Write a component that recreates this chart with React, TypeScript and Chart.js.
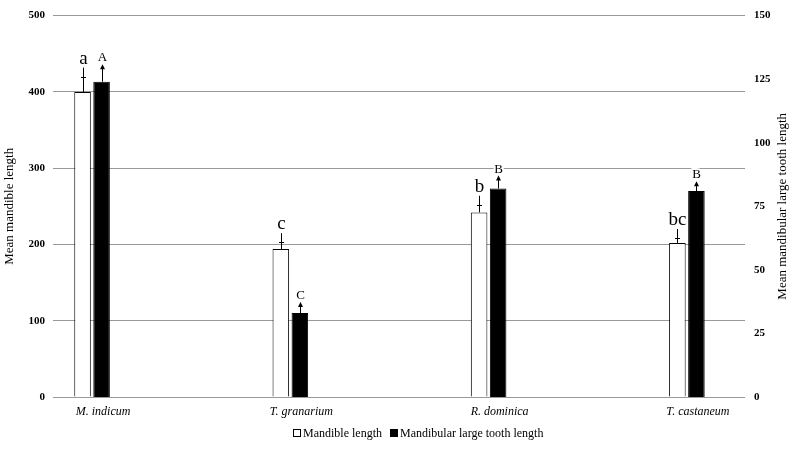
import React, { useEffect, useRef } from 'react';
import { Chart, registerables } from 'chart.js';

Chart.register(...registerables);

const categories = ['M. indicum', 'T. granarium', 'R. dominica', 'T. castaneum'];
const mandibleLength = [400, 194, 242, 202];
const toothLength = [124, 33, 82, 81];
const mandibleErr = [20, 9, 10, 6.5];
const toothErr = [6.5, 4, 4.7, 3.5];
const mandibleLetters = ['a', 'c', 'b', 'bc'];
const toothLetters = ['A', 'C', 'B', 'B'];
const leftTickValues = [0, 100, 200, 300, 400, 500];
const rightTickValues = [0, 25, 50, 75, 100, 125, 150];
const seriesNames = ['Mandible length', 'Mandibular large tooth length'];

const FAMILY = "'Liberation Serif', 'Times New Roman', serif";

const annotPlugin = {
  id: 'annot',
  afterDatasetsDraw(chart: any) {
    const ctx = chart.ctx;
    const sets = [
      { meta: chart.getDatasetMeta(0), scale: chart.scales.y, vals: mandibleLength, err: mandibleErr, letters: mandibleLetters, font: `19px ${FAMILY}`, arrow: false },
      { meta: chart.getDatasetMeta(1), scale: chart.scales.y1, vals: toothLength, err: toothErr, letters: toothLetters, font: `13px ${FAMILY}`, arrow: true },
    ];
    ctx.save();
    for (const s of sets) {
      s.meta.data.forEach((bar: any, i: number) => {
        const x = Math.round(bar.x) + 0.5;
        const top = s.scale.getPixelForValue(s.vals[i]);
        const cap = s.scale.getPixelForValue(s.vals[i] + s.err[i]);
        const lineTop = s.arrow ? cap : cap - 9;
        ctx.strokeStyle = '#000';
        ctx.fillStyle = '#000';
        ctx.lineWidth = 1;
        ctx.beginPath();
        ctx.moveTo(x, top);
        ctx.lineTo(x, lineTop);
        ctx.stroke();
        if (!s.arrow) {
          ctx.beginPath();
          ctx.moveTo(x - 2.5, Math.round(cap) + 0.5);
          ctx.lineTo(x + 2.5, Math.round(cap) + 0.5);
          ctx.stroke();
        } else {
          ctx.beginPath();
          ctx.moveTo(x, lineTop - 1);
          ctx.lineTo(x - 2.5, lineTop + 4);
          ctx.lineTo(x + 2.5, lineTop + 4);
          ctx.closePath();
          ctx.fill();
        }
        ctx.font = s.font;
        ctx.textAlign = 'center';
        ctx.textBaseline = 'alphabetic';
        ctx.lineJoin = 'round';
        ctx.strokeStyle = '#fff';
        ctx.lineWidth = 4;
        ctx.strokeText(s.letters[i], x, lineTop - 4);
        ctx.fillText(s.letters[i], x, lineTop - 4);
      });
    }
    ctx.restore();
  },
  afterDraw(chart: any) {
    const ctx = chart.ctx;
    const area = chart.chartArea;
    ctx.save();
    // legend (custom placement)
    ctx.font = `12px ${FAMILY}`;
    ctx.textBaseline = 'middle';
    ctx.textAlign = 'left';
    const w0 = ctx.measureText(seriesNames[0]).width;
    const w1 = ctx.measureText(seriesNames[1]).width;
    const box = 8, gap = 2, itemGap = 8;
    const total = box + gap + w0 + itemGap + box + gap + w1;
    let lx = Math.round(418 - total / 2);
    const ly = 434;
    chart.data.datasets.forEach((ds: any, i: number) => {
      ctx.fillStyle = ds.backgroundColor;
      ctx.fillRect(lx + 0.5, ly - 4.5, box - 1, box - 1);
      ctx.strokeStyle = ds.borderColor;
      ctx.lineWidth = 1;
      ctx.strokeRect(lx + 0.5, ly - 4.5, box - 1, box - 1);
      ctx.fillStyle = '#000';
      ctx.fillText(seriesNames[i], lx + box + gap, ly);
      lx += box + gap + (i === 0 ? w0 : w1) + itemGap;
    });
    // right axis title (reads bottom-to-top)
    ctx.translate(783, (area.top + area.bottom) / 2);
    ctx.rotate(-Math.PI / 2);
    ctx.font = `13px ${FAMILY}`;
    ctx.fillStyle = '#000';
    ctx.textAlign = 'center';
    ctx.textBaseline = 'middle';
    ctx.fillText('Mean mandibular large tooth length', 0, 0);
    ctx.restore();
  },
};

export default function App() {
  const ref = useRef<HTMLCanvasElement>(null);
  useEffect(() => {
    document.body.style.margin = '0';
    const canvas = ref.current;
    if (!canvas) return;
    const chart = new Chart(canvas, {
      type: 'bar',
      data: {
        datasets: [
          {
            label: seriesNames[0],
            data: categories.map((_, i) => ({ x: i, y: mandibleLength[i] })),
            backgroundColor: '#ffffff',
            borderColor: '#000000',
            borderWidth: 1,
            yAxisID: 'y',
          },
          {
            label: seriesNames[1],
            data: categories.map((_, i) => ({ x: i, y: toothLength[i] })),
            backgroundColor: '#000000',
            borderColor: '#000000',
            borderWidth: 1,
            yAxisID: 'y1',
          },
        ] as any,
      },
      options: {
        animation: false,
        responsive: false,
        devicePixelRatio: 1,
        categoryPercentage: 0.192,
        barPercentage: 0.87,
        layout: { padding: { top: 10, left: 0, right: 0, bottom: 29 } },
        plugins: {
          legend: { display: false },
          tooltip: { enabled: false },
        },
        scales: {
          x: {
            type: 'linear',
            offset: false,
            min: -0.197,
            max: 3.293,
            afterBuildTicks: (s: any) => {
              s.ticks = categories.map((_, i) => ({ value: i }));
            },
            ticks: {
              callback: (v: any) => categories[v as number] ?? '',
              font: { family: FAMILY, size: 12, style: 'italic' },
              color: '#000',
              padding: 8,
              labelOffset: 11,
              autoSkip: false,
              maxRotation: 0,
            },
            grid: { display: false, drawTicks: false },
            border: { display: false },
            afterFit: (s: any) => {
              s.height = 24;
            },
          },
          y: {
            position: 'left',
            min: 0,
            max: 500,
            afterBuildTicks: (s: any) => {
              s.ticks = leftTickValues.map((v) => ({ value: v }));
            },
            ticks: {
              font: { family: FAMILY, size: 11, weight: 'bold' },
              color: '#000',
              padding: 8,
            },
            grid: { color: '#999999', lineWidth: 1, drawTicks: false },
            border: { display: false },
            title: {
              display: true,
              text: 'Mean mandible length',
              color: '#000',
              font: { family: FAMILY, size: 13 },
              padding: { top: 2, bottom: 0 },
            },
            afterFit: (s: any) => {
              s.width = 53;
            },
          },
          y1: {
            position: 'right',
            min: 0,
            max: 150,
            afterBuildTicks: (s: any) => {
              s.ticks = rightTickValues.map((v) => ({ value: v }));
            },
            ticks: {
              font: { family: FAMILY, size: 11, weight: 'bold' },
              color: '#000',
              padding: 9,
            },
            grid: { display: false, drawTicks: false },
            border: { display: false },
            afterFit: (s: any) => {
              s.width = 55;
            },
          },
        },
      } as any,
      plugins: [annotPlugin],
    });
    return () => chart.destroy();
  }, []);
  return (
    <div style={{ width: 800, height: 450 }}>
      <canvas ref={ref} width={800} height={450} style={{ display: 'block' }} />
    </div>
  );
}
